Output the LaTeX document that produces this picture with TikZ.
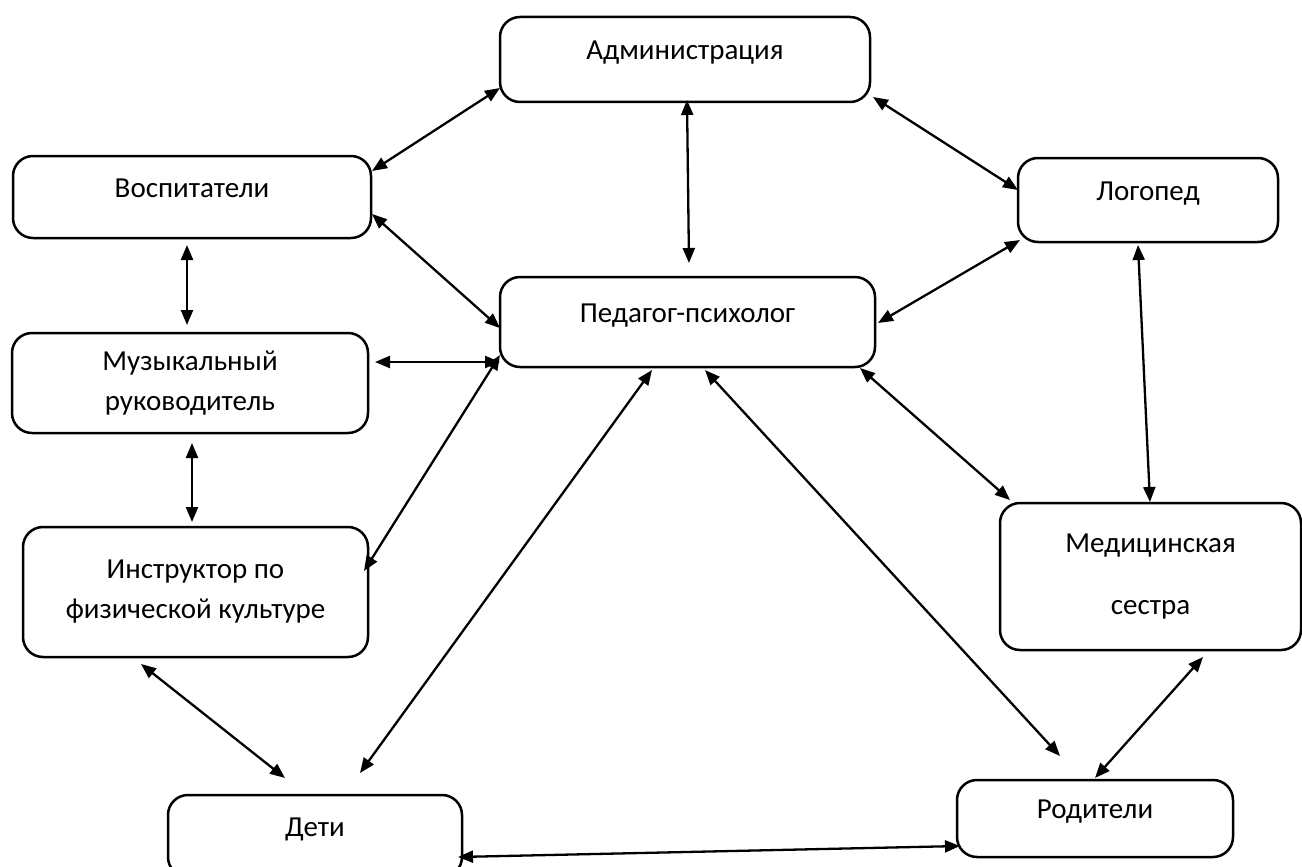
\documentclass[tikz,border=0pt]{standalone}
\usepackage{fontspec}
\setmainfont{Carlito}
\usetikzlibrary{arrows.meta}
\begin{document}
\begin{tikzpicture}[x=1pt,y=-1pt,
  box/.style={draw, line width=2.5pt, rounded corners=20pt, inner sep=0pt, align=center,
    font=\fontsize{29pt}{40pt}\selectfont},
  oneline/.style={text height=8pt, text depth=8pt},
  link/.style={line width=2.3pt, {Triangle[length=15pt,width=12pt]}-{Triangle[length=15pt,width=12pt]}}]
\useasboundingbox (0,0) rectangle (1302,867);
\fill[white] (0,0) rectangle (1302,867);

\node[box, oneline, minimum width=370pt, minimum height=85pt] (adm) at (685,59.5) {Администрация};
\node[box, oneline, minimum width=358pt, minimum height=82pt] (vosp) at (192,197) {Воспитатели};
\node[box, oneline, minimum width=260pt, minimum height=84pt] (log) at (1148,200) {Логопед};
\node[box, oneline, minimum width=375pt, minimum height=90pt] (ped) at (687.5,322) {Педагог-психолог};
\node[box, minimum width=356pt, minimum height=100pt] (muz) at (190,383) {Музыкальный\\руководитель};
\node[box, minimum width=345pt, minimum height=130pt] (instr) at (195.5,592) {Инструктор по\\физической культуре};
\node[box, minimum width=301pt, minimum height=147pt] (med) at (1150.5,576.5) {Медицинская\\[22pt]сестра};
\node[box, oneline, minimum width=294pt, minimum height=82pt] (deti) at (315,836) {Дети};
\node[box, oneline, minimum width=276pt, minimum height=77pt] (rod) at (1095,818.5) {Родители};

\draw[link] ([shift={(180,-26)}]vosp.center) -- ([shift={(-185,28.5)}]adm.center);
\draw[link] ([shift={(188,37.5)}]adm.center) -- ([shift={(-130,-10)}]log.center);
\draw[link] ([shift={(2,40.5)}]adm.center) -- ([shift={(1.5,-59)}]ped.center);
\draw[link] ([shift={(-128,40)}]log.center) -- ([shift={(190.5,1)}]ped.center);
\draw[link] ([shift={(180,17)}]vosp.center) -- ([shift={(-187.5,6)}]ped.center);
\draw[link] ([shift={(-10,45)}]log.center) -- ([shift={(-0.5,-74.5)}]med.center);
\draw[link] ([shift={(-5,48)}]vosp.center) -- ([shift={(-3,-58)}]muz.center);
\draw[link] ([shift={(185,-21)}]muz.center) -- ([shift={(-187.5,40)}]ped.center);
\draw[link] ([shift={(2,60)}]muz.center) -- ([shift={(-3.5,-70)}]instr.center);
\draw[link] ([shift={(168.5,-21)}]instr.center) -- ([shift={(-187.5,33)}]ped.center);
\draw[link] ([shift={(45,-63)}]deti.center) -- ([shift={(-35.5,48)}]ped.center);
\draw[link] ([shift={(17.5,48)}]ped.center) -- ([shift={(-35,-62.5)}]rod.center);
\draw[link] ([shift={(172.5,46)}]ped.center) -- ([shift={(-140.5,-76.5)}]med.center);
\draw[link] ([shift={(52.5,80.5)}]med.center) -- ([shift={(0,-40.5)}]rod.center);
\draw[link] ([shift={(-54.5,72)}]instr.center) -- ([shift={(-30,-58)}]deti.center);
\draw[link] ([shift={(143,21)}]deti.center) -- ([shift={(-135,27.5)}]rod.center);
\end{tikzpicture}
\end{document}
